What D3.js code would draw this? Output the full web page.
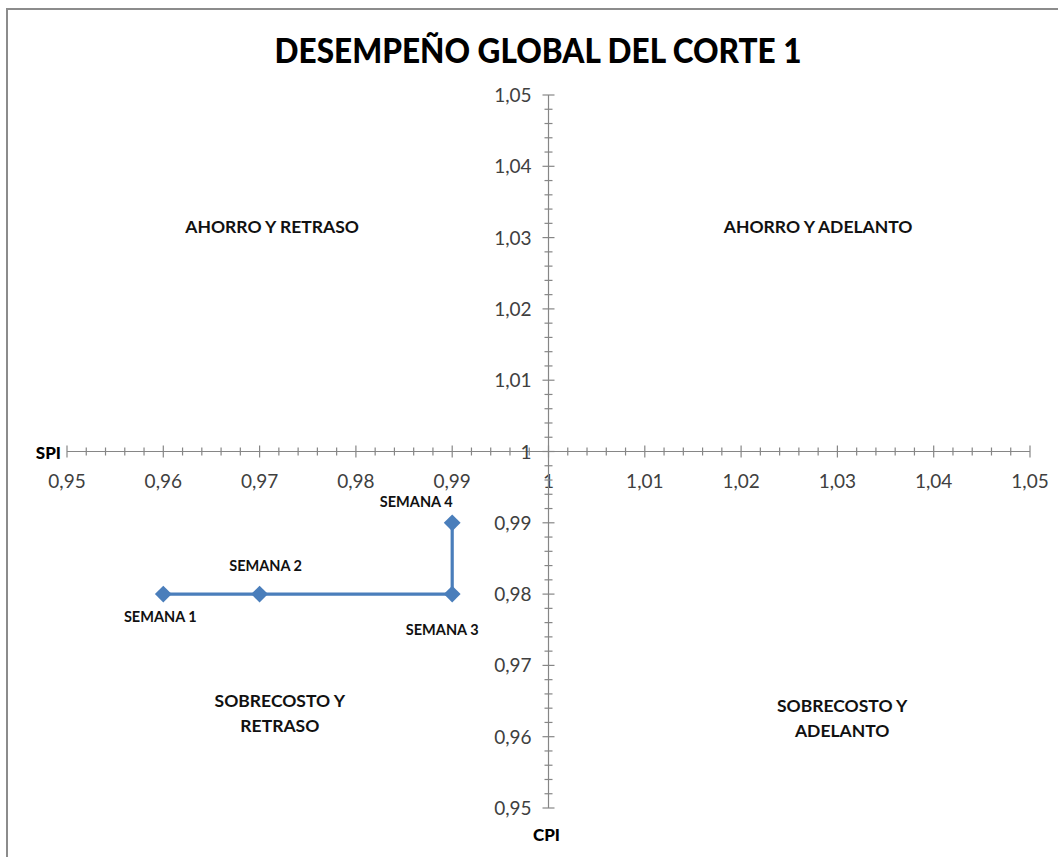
<!DOCTYPE html>
<html>
<head>
<meta charset="utf-8">
<script src="https://cdn.jsdelivr.net/npm/d3@7"></script>
<style>
  html, body { margin: 0; padding: 0; background: #fff; }
  svg { display: block; }
  text { font-family: Lato, "Open Sans", sans-serif; }
</style>
</head>
<body>
<svg id="chart" width="1058" height="857"></svg>
<script>
// Weekly performance points: SPI on the horizontal axis, CPI on the vertical one
const weeks = ["SEMANA 1", "SEMANA 2", "SEMANA 3", "SEMANA 4"];
const spiValues = [0.96, 0.97, 0.99, 0.99];
const cpiValues = [0.98, 0.98, 0.98, 0.99];

const spiTicks = [0.95, 0.96, 0.97, 0.98, 0.99, 1.00, 1.01, 1.02, 1.03, 1.04, 1.05];
const cpiTicks = [0.95, 0.96, 0.97, 0.98, 0.99, 1.00, 1.01, 1.02, 1.03, 1.04, 1.05];
const minorStep = 0.002;

const quadrantNames = [
  { lines: ["AHORRO Y RETRASO"], spi: 0.9713, cpi: 1.0315 },
  { lines: ["AHORRO Y ADELANTO"], spi: 1.028, cpi: 1.0315 },
  { lines: ["SOBRECOSTO Y", "RETRASO"], spi: 0.9721, cpi: 0.965 },
  { lines: ["SOBRECOSTO Y", "ADELANTO"], spi: 1.0305, cpi: 0.9643 }
];

const title = "DESEMPEÑO GLOBAL DEL CORTE 1";

const svg = d3.select("#chart");
const fmt = v => d3.format(".2f")(v).replace(".", ",").replace(/^1,00$/, "1");

const x = d3.scaleLinear().domain([0.95, 1.05]).range([67, 1030]);
const y = d3.scaleLinear().domain([0.95, 1.05]).range([808, 95]);

// Outer frame
svg.append("rect")
  .attr("x", 7).attr("y", 9)
  .attr("width", 1100).attr("height", 900)
  .attr("fill", "#fff")
  .attr("stroke", "#8c8c8c").attr("stroke-width", 2);

// Title
svg.append("text")
  .attr("x", 538).attr("y", 63)
  .attr("text-anchor", "middle")
  .attr("font-size", 34).attr("font-weight", 900)
  .attr("fill", "#000")
  .attr("textLength", 527).attr("lengthAdjust", "spacingAndGlyphs")
  .text(title);

const axisColor = "#868686";
const labelColor = "#404040";
const x0 = x(1), y0 = y(1);

// Minor tick values across the domain
const minors = d3.range(0, 51).map(i => +(0.95 + i * minorStep).toFixed(3));
const isMajor = d => spiTicks.some(t => Math.abs(t - d) < 1e-6);

// Horizontal axis (SPI) crossing at CPI = 1
const gx = svg.append("g");
gx.append("line")
  .attr("x1", x(0.95)).attr("x2", x(1.05))
  .attr("y1", y0).attr("y2", y0)
  .attr("stroke", axisColor).attr("stroke-width", 1.2);
gx.selectAll("line.minor").data(minors).join("line")
  .attr("class", "minor")
  .attr("x1", d => x(d)).attr("x2", d => x(d))
  .attr("y1", d => isMajor(d) ? y0 - 6 : y0 - 4)
  .attr("y2", d => isMajor(d) ? y0 + 6 : y0 + 4)
  .attr("stroke", axisColor).attr("stroke-width", 1.2);
gx.selectAll("text").data(spiTicks).join("text")
  .attr("x", d => x(d)).attr("y", y0 + 36)
  .attr("text-anchor", "middle")
  .attr("font-size", 19).attr("fill", labelColor)
  .text(fmt);

// Vertical axis (CPI) crossing at SPI = 1
const gy = svg.append("g");
gy.append("line")
  .attr("x1", x0).attr("x2", x0)
  .attr("y1", y(0.95)).attr("y2", y(1.05))
  .attr("stroke", axisColor).attr("stroke-width", 1.2);
gy.selectAll("line.minor").data(minors).join("line")
  .attr("class", "minor")
  .attr("y1", d => y(d)).attr("y2", d => y(d))
  .attr("x1", d => isMajor(d) ? x0 - 6 : x0 - 4)
  .attr("x2", d => isMajor(d) ? x0 + 6 : x0 + 4)
  .attr("stroke", axisColor).attr("stroke-width", 1.2);
gy.selectAll("text").data(cpiTicks).join("text")
  .attr("x", x0 - 17).attr("y", d => y(d) + 7)
  .attr("text-anchor", "end")
  .attr("font-size", 19).attr("fill", labelColor)
  .text(fmt);

// Axis titles
svg.append("text")
  .attr("x", 61).attr("y", y0 + 7)
  .attr("text-anchor", "end")
  .attr("font-size", 17).attr("font-weight", 900).attr("fill", "#000")
  .text("SPI");
svg.append("text")
  .attr("x", x0 - 2).attr("y", y(0.95) + 33)
  .attr("text-anchor", "middle")
  .attr("font-size", 17).attr("font-weight", 900).attr("fill", "#000")
  .text("CPI");

// Quadrant names
quadrantNames.forEach(q => {
  const t = svg.append("text")
    .attr("text-anchor", "middle")
    .attr("font-size", 17.5).attr("font-weight", 700).attr("fill", "#111");
  q.lines.forEach((line, i) => {
    t.append("tspan")
      .attr("x", x(q.spi))
      .attr("y", y(q.cpi) + 6 + i * 25)
      .text(line);
  });
});

// Series
const points = weeks.map((w, i) => ({ name: w, spi: spiValues[i], cpi: cpiValues[i] }));
const seriesColor = "#4a7ebb";

svg.append("path")
  .datum(points)
  .attr("fill", "none")
  .attr("stroke", seriesColor).attr("stroke-width", 3.2)
  .attr("d", d3.line().x(d => x(d.spi)).y(d => y(d.cpi)));

svg.selectAll("path.marker").data(points).join("path")
  .attr("class", "marker")
  .attr("transform", d => `translate(${x(d.spi)},${y(d.cpi)})`)
  .attr("d", d3.symbol(d3.symbolDiamond2, 180))
  .attr("fill", seriesColor);

// Point labels
const labelOffsets = [
  { dx: -3, dy: 28 },
  { dx: 6, dy: -23 },
  { dx: -10, dy: 41 },
  { dx: -36, dy: -16 }
];
svg.selectAll("text.point").data(points).join("text")
  .attr("class", "point")
  .attr("x", (d, i) => x(d.spi) + labelOffsets[i].dx)
  .attr("y", (d, i) => y(d.cpi) + labelOffsets[i].dy)
  .attr("text-anchor", "middle")
  .attr("font-size", 14.5).attr("font-weight", 700).attr("fill", "#111")
  .text(d => d.name);
</script>
</body>
</html>
